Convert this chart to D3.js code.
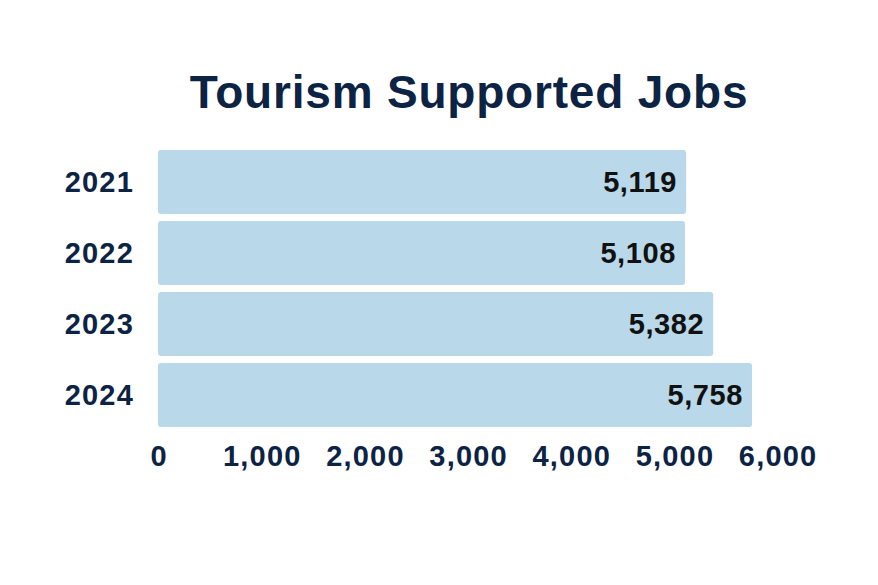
<!DOCTYPE html>
<html>
<head>
<meta charset="utf-8">
<script src="https://cdn.jsdelivr.net/npm/d3@7"></script>
<style>
  body { margin: 0; background: #fff; }
  text { font-family: "Liberation Sans", Arial, sans-serif; font-weight: bold; }
</style>
</head>
<body>
<svg id="chart" width="878" height="585"></svg>
<script>
// data
const years = ['2021', '2022', '2023', '2024']
const jobs = [5119, 5108, 5382, 5758]
const xTicks = [0, 1000, 2000, 3000, 4000, 5000, 6000]

const svg = d3.select('#chart'),
  navy = '#0c2344',
  barColor = '#b9d8ea'

const x = d3.scaleLinear()
    .domain([0, 6000])
    .range([158, 777])

const y = d3.scaleBand()
    .domain(years)
    .range([146.5, 430.5])
    .paddingInner(0.1)
    .paddingOuter(0.05)

// title
svg.append('text')
    .attr('x', 469)
    .attr('y', 108)
    .attr('text-anchor', 'middle')
    .attr('fill', navy)
    .style('font-size', '46px')
    .style('letter-spacing', '0.8px')
    .text('Tourism Supported Jobs')

const data = years.map((d, i) => ({ year: d, value: jobs[i] }))

// bars
svg.append('g').selectAll('rect')
    .data(data)
    .enter().append('rect')
    .attr('x', x(0))
    .attr('y', (d) => y(d.year))
    .attr('width', (d) => x(d.value) - x(0))
    .attr('height', y.bandwidth())
    .attr('rx', 3)
    .attr('fill', barColor)

// value labels
svg.append('g').selectAll('text')
    .data(data)
    .enter().append('text')
    .attr('x', (d) => x(d.value) - 9)
    .attr('y', (d) => y(d.year) + y.bandwidth() / 2)
    .attr('dy', '0.36em')
    .attr('text-anchor', 'end')
    .attr('fill', '#111')
    .style('font-size', '29px')
    .style('letter-spacing', '0.6px')
    .text((d) => d3.format(',')(d.value))

// y axis
const yAxis = svg.append('g')
    .attr('transform', 'translate(' + (x(0) - 7) + ',0)')
    .call(d3.axisLeft(y).tickSize(0).tickPadding(17))
yAxis.select('.domain').remove()
yAxis.selectAll('text')
    .attr('fill', navy)
    .attr('dy', '0.36em')
    .style('font-size', '29px')
    .style('letter-spacing', '1.2px')
    .style('font-family', '"Liberation Sans", Arial, sans-serif')
    .style('font-weight', 'bold')

// x axis
const xAxis = svg.append('g')
    .attr('transform', 'translate(0.6,' + 430 + ')')
    .call(d3.axisBottom(x).tickValues(xTicks).tickFormat(d3.format(',')).tickSize(0).tickPadding(15))
xAxis.select('.domain').remove()
xAxis.selectAll('text')
    .attr('fill', navy)
    .style('font-size', '29px')
    .style('letter-spacing', '1.2px')
    .style('font-family', '"Liberation Sans", Arial, sans-serif')
    .style('font-weight', 'bold')
</script>
</body>
</html>
